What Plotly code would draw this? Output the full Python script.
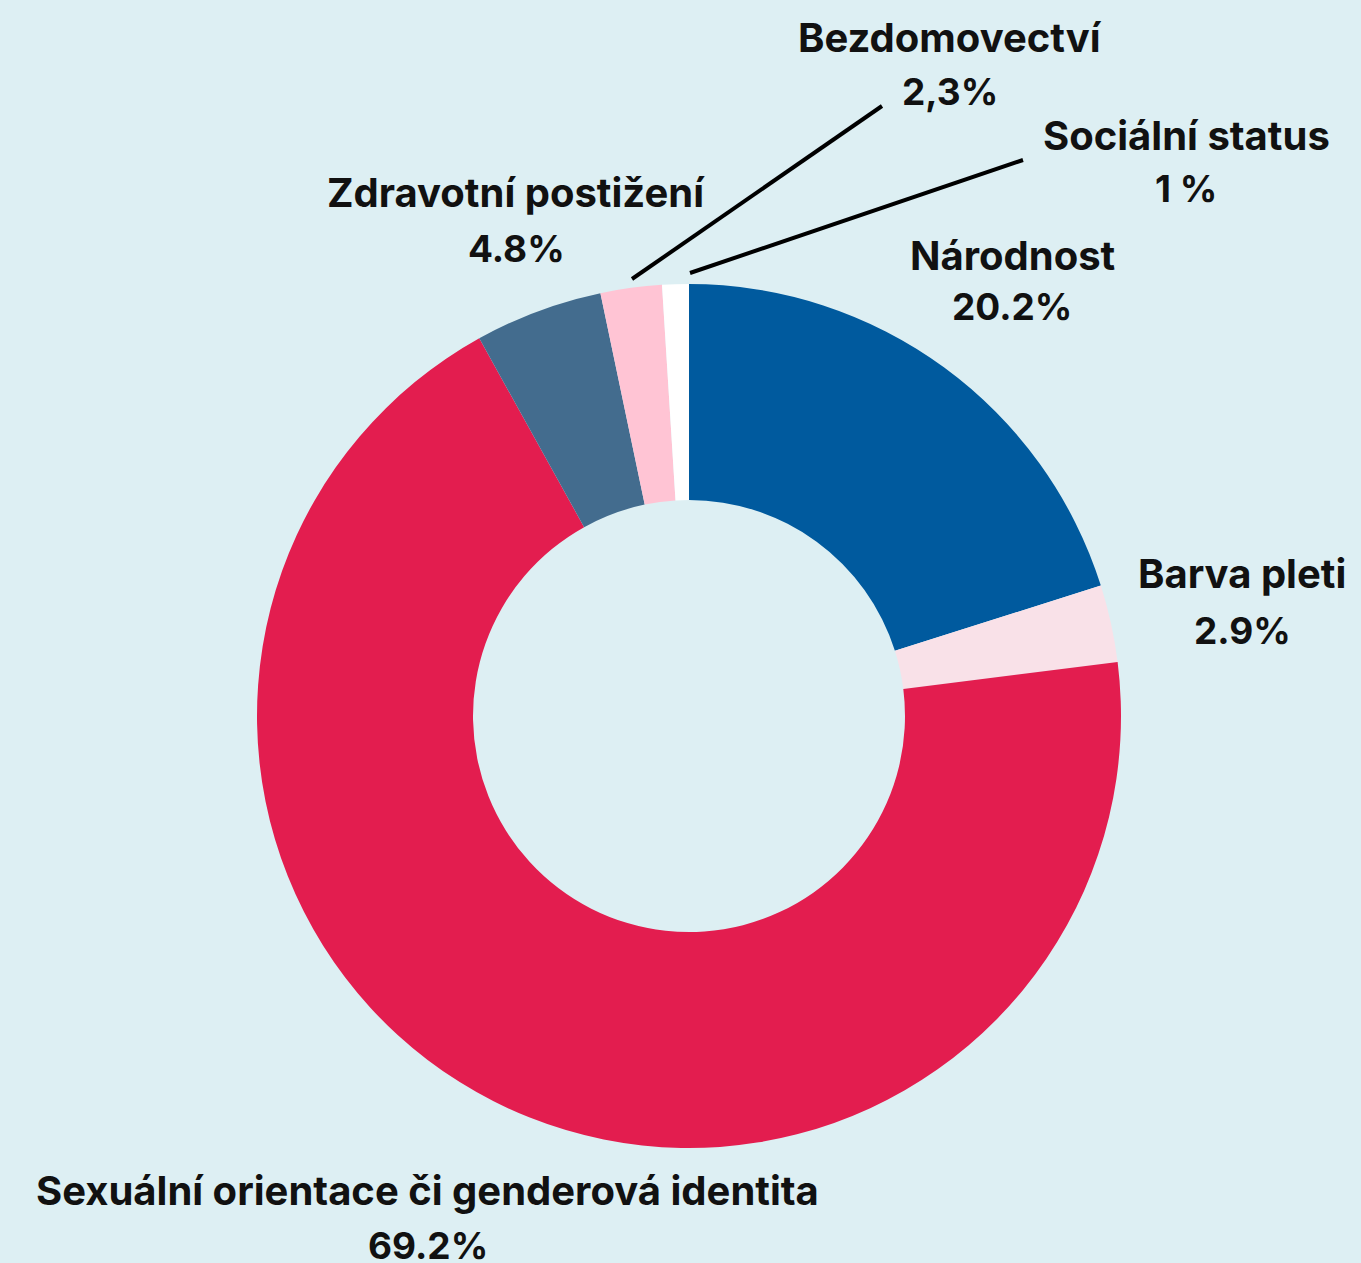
import plotly.graph_objects as go

categories = ["Národnost", "Barva pleti", "Sexuální orientace či genderová identita",
              "Zdravotní postižení", "Bezdomovectví", "Sociální status"]
values = [20.2, 2.9, 69.2, 4.8, 2.3, 1.0]
value_labels = ["20.2%", "2.9%", "69.2%", "4.8%", "2,3%", "1 %"]
colors = ["#005A9E", "#F9E1E8", "#E31D4F", "#436C8E", "#FFC4D4", "#FFFFFF"]

W, H = 1361, 1263
BG = "#DDEFF3"
# label centers (pixels) for name line and value line
label_pos = [
    (1012, 255, 306),
    (1242, 573, 630),
    (428, 1190, 1245),
    (516, 192, 248),
    (950, 38, 92),
    (1186, 135, 188),
]
leaders = [None, None, None, None, ((632, 279), (882, 106)), ((690, 273), (1023, 160))]

cx, cy, r = 689, 716, 432

fig = go.Figure(go.Pie(
    labels=categories, values=values, sort=False, direction="clockwise",
    hole=0.5, marker=dict(colors=colors, line=dict(width=0)),
    textinfo="none", hoverinfo="label+percent", showlegend=False,
    domain=dict(x=[(cx - r) / W, (cx + r) / W], y=[(H - cy - r) / H, (H - cy + r) / H]),
))

name_font = dict(family="Inter", size=40, color="#111111")
val_font = dict(family="Inter", size=37, color="#111111")
annotations = []
for name, val, (x, y1, y2) in zip(categories, value_labels, label_pos):
    annotations.append(dict(x=x / W, y=1 - y1 / H, xref="paper", yref="paper",
                            text=f"<b>{name}</b>", showarrow=False, font=name_font,
                            xanchor="center", yanchor="middle"))
    annotations.append(dict(x=x / W, y=1 - y2 / H, xref="paper", yref="paper",
                            text=f"<b>{val}</b>", showarrow=False, font=val_font,
                            xanchor="center", yanchor="middle"))

shapes = []
for ld in leaders:
    if ld:
        (x0, y0), (x1, y1) = ld
        shapes.append(dict(type="line", xref="paper", yref="paper",
                           x0=x0 / W, y0=1 - y0 / H, x1=x1 / W, y1=1 - y1 / H,
                           line=dict(color="#000000", width=4)))

fig.update_layout(
    width=W, height=H, margin=dict(l=0, r=0, t=0, b=0),
    paper_bgcolor=BG, plot_bgcolor=BG,
    annotations=annotations, shapes=shapes,
)
fig.write_html(
    "out.html",
    config={"displayModeBar": False},
    post_script=f"document.body.style.margin='0';document.body.style.background='{BG}';document.body.style.overflow='hidden';",
)
